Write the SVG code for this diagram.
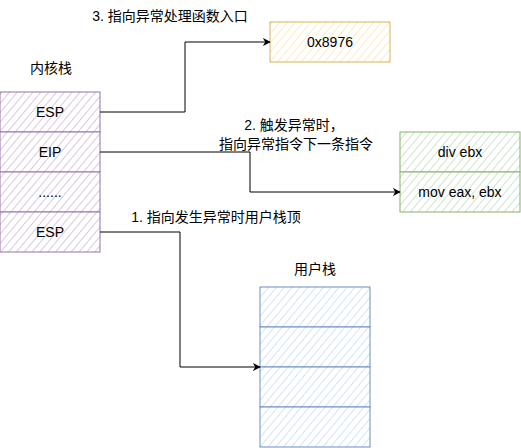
<svg xmlns="http://www.w3.org/2000/svg" width="521" height="448" viewBox="0 0 521 448">
<defs>
<pattern id="hP" patternUnits="userSpaceOnUse" width="6" height="6" patternTransform="rotate(40)"><rect width="6" height="6" fill="#ffffff"/><line x1="0" y1="0" x2="0" y2="6" stroke="#d9c9e0" stroke-width="2"/></pattern>
<pattern id="hY" patternUnits="userSpaceOnUse" width="6" height="6" patternTransform="rotate(40)"><rect width="6" height="6" fill="#ffffff"/><line x1="0" y1="0" x2="0" y2="6" stroke="#fbecc0" stroke-width="2"/></pattern>
<pattern id="hG" patternUnits="userSpaceOnUse" width="6" height="6" patternTransform="rotate(40)"><rect width="6" height="6" fill="#ffffff"/><line x1="0" y1="0" x2="0" y2="6" stroke="#cfe4cd" stroke-width="2"/></pattern>
<pattern id="hB" patternUnits="userSpaceOnUse" width="6" height="6" patternTransform="rotate(40)"><rect width="6" height="6" fill="#ffffff"/><line x1="0" y1="0" x2="0" y2="6" stroke="#d3e3fa" stroke-width="2"/></pattern>
<marker id="arr" viewBox="0 0 10 10" refX="9" refY="5" markerWidth="8" markerHeight="8" markerUnits="userSpaceOnUse" orient="auto"><path d="M0,0 L10,5 L0,10 L3,5 Z" fill="#000"/></marker>
</defs>
<style>
text{font-family:"Liberation Sans","Noto Sans CJK SC",sans-serif;font-size:14px;fill:#000;text-anchor:middle;dominant-baseline:central}
.p{fill:url(#hP);stroke:#9673a6}
.y{fill:url(#hY);stroke:#d6b656}
.g{fill:url(#hG);stroke:#82b366}
.b{fill:url(#hB);stroke:#6c8ebf}
.c{fill:none;stroke:#000;stroke-width:1;marker-end:url(#arr)}
</style>
<g id="kernel-stack">
<text x="51" y="68">内核栈</text>
<rect class="p" x="0" y="92" width="100" height="40"/><text x="50" y="112">ESP</text>
<rect class="p" x="0" y="132" width="100" height="40"/><text x="50" y="152">EIP</text>
<rect class="p" x="0" y="172" width="100" height="40"/><text x="50" y="192">......</text>
<rect class="p" x="0" y="212" width="100" height="40"/><text x="50" y="232">ESP</text>
</g>
<g id="handler">
<rect class="y" x="270" y="22" width="120" height="40"/><text x="330" y="42">0x8976</text>
</g>
<g id="code">
<rect class="g" x="400" y="132" width="120" height="40"/><text x="460" y="152">div ebx</text>
<rect class="g" x="400" y="172" width="120" height="40"/><text x="460" y="192">mov eax, ebx</text>
</g>
<g id="user-stack">
<text x="315" y="269">用户栈</text>
<rect class="b" x="260" y="287" width="110" height="40"/>
<rect class="b" x="260" y="327" width="110" height="40"/>
<rect class="b" x="260" y="367" width="110" height="40"/>
<rect class="b" x="260" y="407" width="110" height="40"/>
</g>
<g id="connectors">
<path class="c" d="M100,112 L185,112 L185,42 L270,42"/>
<path class="c" d="M100,152 L250,152 L250,192 L400,192"/>
<path class="c" d="M100,232 L180,232 L180,367 L260,367"/>
</g>
<g id="labels">
<text x="170" y="16">3. 指向异常处理函数入口</text>
<text x="294" y="125">2. 触发异常时，</text>
<text x="296" y="144">指向异常指令下一条指令</text>
<text x="216" y="217">1. 指向发生异常时用户栈顶</text>
</g>
</svg>
